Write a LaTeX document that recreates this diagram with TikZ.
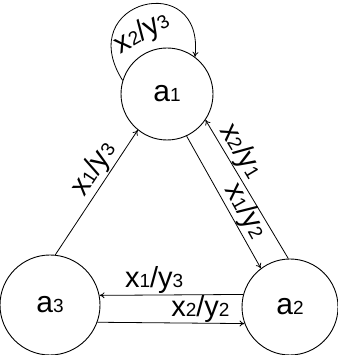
\documentclass[tikz,border=0pt]{standalone}
\usepackage{fontspec}
\setmainfont{Liberation Sans}
\usetikzlibrary{arrows.meta}
\newcommand{\dg}[1]{{\fontsize{19}{19}\selectfont #1}}

\begin{document}
\begin{tikzpicture}[
  x=1pt, y=1pt,
  state/.style={draw, circle, line width=0.9pt, inner sep=0pt,
                font=\fontsize{30}{30}\selectfont},
  arrow/.style={-{To[length=5pt,width=6pt]}, line width=0.8pt},
  lab/.style={font=\fontsize{29}{29}\selectfont, inner sep=1pt}
]
\useasboundingbox (0,0) rectangle (337,355);

\node[state, minimum size=92pt] (a1) at (167,261) {a\dg{1}};
\node[state, minimum size=96pt] (a2) at (290,48) {a\dg{2}};
\node[state, minimum size=100pt] (a3) at (50,50) {a\dg{3}};

% loop on a1
\draw[arrow] (a1.163) .. controls (72,355) and (205,387) .. (a1.53);
\node[lab, rotate=30] (l13) at (142,322) {x\dg{2}/y\dg{3}};

% triangle sides
\draw[arrow] (a3.84) -- node[lab, sloped, above, pos=0.62] (l31) {x\dg{1}/y\dg{3}} (a1.231);
\draw[arrow] (a1.295) -- node[lab, sloped, above, pos=0.62, inner sep=0pt] (l12) {x\dg{1}/y\dg{2}} (a2.127);
\draw[arrow] (a2.92) -- node[lab, sloped, above, pos=0.72, inner sep=0pt] (l21) {x\dg{2}/y\dg{1}} (a1.326);
\draw[arrow] (a2.165) -- node[lab, above, pos=0.62] (l23) {x\dg{1}/y\dg{3}} (a3.11);
\draw[arrow] (a3.340) -- node[lab, above, pos=0.7, inner sep=0pt] (l32) {x\dg{2}/y\dg{2}} (a2.200);
\end{tikzpicture}
\end{document}
